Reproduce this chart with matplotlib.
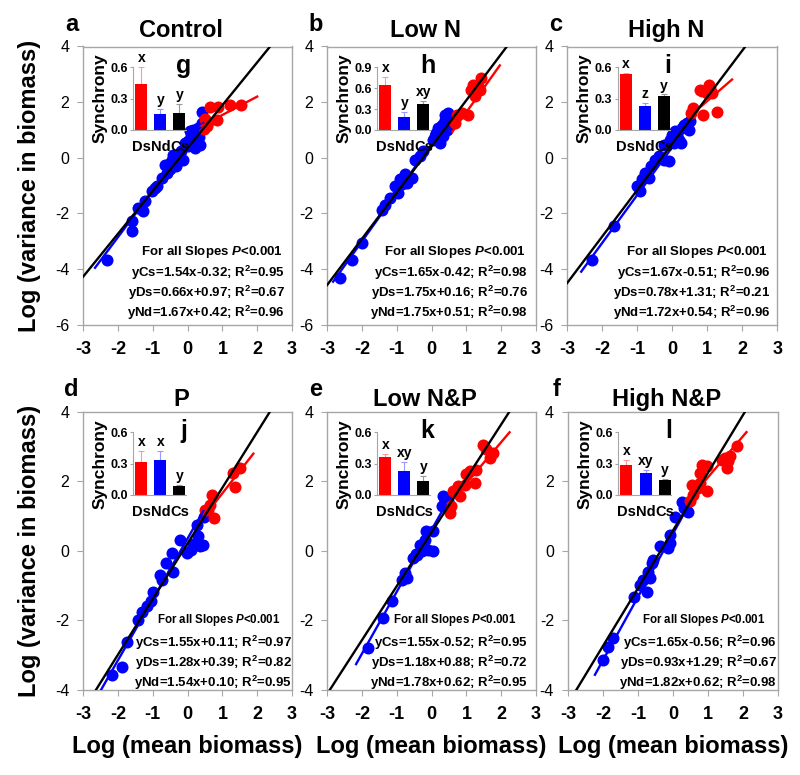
import numpy as np
import matplotlib.pyplot as plt

plt.rcParams['font.family'] = ['Liberation Sans', 'DejaVu Sans']
plt.rcParams['axes.unicode_minus'] = False
plt.rcParams['mathtext.fontset'] = 'custom'
plt.rcParams['mathtext.rm'] = 'Liberation Sans:bold'
plt.rcParams['mathtext.bf'] = 'Liberation Sans:bold'
plt.rcParams['mathtext.it'] = 'Liberation Sans:bold:italic'
plt.rcParams['mathtext.default'] = 'bf'

titles = ['Control', 'Low N', 'High N', 'P', 'Low N&P', 'High N&P']
panel_letters = ['a', 'b', 'c', 'd', 'e', 'f']
inset_letters = ['g', 'h', 'i', 'j', 'k', 'l']

# log(mean biomass), log(variance) for Nd (blue) and Ds (red) points
a_nd_x = [-2.32, -1.61, -1.61, -1.42, -1.27, -1.22, -1.03, -0.89, -0.95, -0.75, -0.60, -0.51, -0.65, -0.46,
          -0.41, -0.13, -0.51, -0.32, -0.08, 0.02, 0.16, 0.26, 0.30, 0.40, 0.35, 0.21, 0.11, 0.07, 0.42,
          -0.18, 0.00, 0.25, 0.33, 0.15, 0.30]
a_nd_y = [-3.69, -2.64, -2.28, -1.80, -1.92, -1.56, -1.20, -1.02, -1.10, -0.72, -0.54, -0.42, -0.25, -0.07,
          0.11, -0.07, -0.18, -0.30, 0.53, 0.41, 0.65, 0.89, 1.07, 1.25, 0.47, 0.35, 0.77, 0.95, 1.64,
          0.25, 0.60, 0.55, 0.75, 1.00, 0.95]
a_ds_x = [0.64, 0.87, 1.21, 1.53, 0.50, 0.84, 0.55, 0.47, 0.60]
a_ds_y = [1.81, 1.84, 1.88, 1.91, 1.41, 1.37, 1.16, 1.05, 1.30]

b_nd_x = [-2.63, -2.29, -2.01, -1.43, -1.34, -1.19, -0.96, -1.05, -0.91, -0.76, -0.57, -0.72, -0.48, -0.34,
          -0.24, 0.05, 0.14, 0.19, 0.29, 0.33, 0.43, 0.48, 0.38, 0.24, 0.10, 0.38, -0.85]
b_nd_y = [-4.32, -3.66, -3.06, -1.86, -1.68, -1.44, -1.26, -1.02, -0.78, -0.60, -0.73, -0.90, -0.07, 0.05,
          0.23, 0.65, 0.89, 1.07, 1.19, 0.77, 1.01, 1.61, 1.37, 0.53, 0.77, 1.55, -0.95]
b_ds_x = [0.67, 0.72, 0.86, 1.05, 1.14, 1.19, 1.38, 1.43, 1.24, 1.34]
b_ds_y = [1.25, 1.55, 1.61, 1.55, 2.45, 2.63, 2.45, 2.87, 2.21, 2.57]

c_nd_x = [-2.29, -1.67, -1.00, -0.91, -0.86, -0.77, -0.67, -0.62, -0.48, -0.38, -0.24, -0.10, -0.05, 0.00,
          0.09, 0.14, 0.19, 0.24, 0.29, 0.33, 0.43, 0.52, 0.05, 0.48, -0.24]
c_nd_y = [-3.66, -2.46, -1.03, -1.20, -0.78, -0.54, -0.73, -0.30, -0.07, 0.05, -0.07, -0.13, 0.65, 0.83,
          0.95, 0.83, 0.65, 0.53, 1.07, 1.19, 1.25, 1.31, 0.53, 1.01, 0.47]
c_ds_x = [0.80, 1.09, 1.14, 0.89, 1.29, 0.60, 0.55, 1.00, 0.86, 1.05]
c_ds_y = [2.45, 2.52, 2.34, 1.55, 1.66, 1.79, 1.60, 2.33, 2.40, 2.60]

d_nd_x = [-2.17, -1.88, -1.74, -1.42, -1.30, -1.18, -1.06, -0.99, -0.79, -0.73, -0.41, -0.62, -0.45, -0.21,
          -0.02, 0.16, 0.45, 0.28, 0.48, 0.30, 0.35, 0.11]
d_nd_y = [-3.57, -3.34, -2.62, -1.99, -1.76, -1.60, -1.45, -1.18, -0.69, -0.83, -0.60, -0.35, -0.06, 0.32,
          -0.06, 0.20, 0.17, 0.75, 0.98, 0.41, 0.12, 0.03]
d_ds_x = [0.70, 0.65, 0.75, 0.50, 1.31, 1.35, 1.51, 0.59]
d_ds_y = [1.61, 1.30, 0.95, 1.17, 2.24, 1.84, 2.38, 1.18]

e_nd_x = [-1.82, -1.39, -1.15, -0.86, -0.72, -0.77, -0.53, -0.43, -0.34, -0.29, -0.10, 0.05, -0.19, -0.15,
          0.05, 0.29, 0.38, 0.33, 0.48, -0.45]
e_nd_y = [-2.80, -1.94, -1.46, -0.83, -0.79, -0.64, -0.21, -0.12, 0.17, -0.02, 0.03, -0.02, 0.32, 0.56,
          0.56, 1.28, 1.47, 1.56, 1.42, -0.10]
e_ds_x = [0.57, 0.52, 0.62, 0.81, 0.76, 0.95, 1.00, 1.10, 1.24, 1.29, 1.48, 1.57, 1.77, 1.67]
e_ds_y = [1.28, 1.08, 1.71, 1.56, 1.85, 1.90, 2.19, 2.28, 1.95, 2.33, 3.05, 2.91, 2.81, 2.67]

f_nd_x = [-2.00, -1.86, -1.71, -1.12, -0.74, -0.95, -0.86, -0.67, -0.71, -0.61, -0.57, -0.37, -0.14, -0.09,
          -0.09, 0.06, 0.26, 0.30, 0.43, 0.37]
f_nd_y = [-3.14, -2.78, -2.51, -1.33, -1.18, -0.99, -0.85, -0.79, -0.60, -0.35, -0.26, 0.12, 0.08, 0.22,
          0.46, 0.98, 1.41, 1.22, 1.12, 1.31]
f_ds_x = [0.49, 0.58, 0.53, 0.77, 0.82, 0.77, 0.96, 0.72, 1.39, 1.49, 1.58, 1.53, 1.63, 1.82, 0.96]
f_ds_y = [1.42, 1.61, 1.90, 1.95, 2.47, 2.23, 1.71, 1.80, 2.62, 2.67, 2.57, 2.38, 2.71, 3.00, 2.43]

# fitted lines as drawn
cs_slope = [1.54, 1.66, 1.67, 1.60, 1.55, 1.66]
cs_icpt = [0.35, 0.41, 0.51, 0.21, 0.53, 0.58]
nd_slope = [1.67, 1.75, 1.72, 1.75, 1.78, 1.82]
nd_icpt = [0.49, 0.50, 0.38, 0.35, 0.60, 0.49]
nd_span = [(-2.66, 0.45), (-2.83, 0.50), (-2.60, 0.50), (-2.48, 0.45), (-2.17, 0.40), (-2.23, 0.50)]
ds_slope = [0.66, 1.75, 1.09, 1.28, 1.18, 1.18]
ds_icpt = [0.88, -0.11, 0.95, 0.37, 0.76, 0.93]
ds_span = [(0.40, 2.00), (0.60, 1.96), (0.49, 1.71), (0.40, 1.89), (0.50, 2.24), (0.40, 2.10)]

# reported equations
eq_cs = ['1.54x-0.32', '1.65x-0.42', '1.67x-0.51', '1.55x+0.11', '1.55x-0.52', '1.65x-0.56']
eq_ds = ['0.66x+0.97', '1.75x+0.16', '0.78x+1.31', '1.28x+0.39', '1.18x+0.88', '0.93x+1.29']
eq_nd = ['1.67x+0.42', '1.75x+0.51', '1.72x+0.54', '1.54x+0.10', '1.78x+0.62', '1.82x+0.62']
r2_cs = ['0.95', '0.98', '0.96', '0.97', '0.95', '0.96']
r2_ds = ['0.67', '0.76', '0.21', '0.82', '0.72', '0.67']
r2_nd = ['0.96', '0.98', '0.96', '0.95', '0.95', '0.98']

# synchrony insets
sync_labels = ['Ds', 'Nd', 'Cs']
sync_ds = [0.44, 0.65, 0.54, 0.32, 0.36, 0.29]
sync_nd = [0.15, 0.19, 0.23, 0.34, 0.23, 0.21]
sync_cs = [0.16, 0.38, 0.33, 0.09, 0.13, 0.14]
err_ds = [0.16, 0.11, 0.01, 0.10, 0.035, 0.05]
err_nd = [0.05, 0.07, 0.03, 0.08, 0.09, 0.03]
err_cs = [0.09, 0.04, 0.01, 0.01, 0.05, 0.015]
sig_ds = ['x', 'x', 'x', 'x', 'x', 'x']
sig_nd = ['y', 'y', 'z', 'x', 'xy', 'xy']
sig_cs = ['y', 'xy', 'y', 'y', 'y', 'y']
sync_ymax = [0.6, 0.9, 0.6, 0.6, 0.6, 0.6]

nd_x = [a_nd_x, b_nd_x, c_nd_x, d_nd_x, e_nd_x, f_nd_x]
nd_y = [a_nd_y, b_nd_y, c_nd_y, d_nd_y, e_nd_y, f_nd_y]
ds_x = [a_ds_x, b_ds_x, c_ds_x, d_ds_x, e_ds_x, f_ds_x]
ds_y = [a_ds_y, b_ds_y, c_ds_y, d_ds_y, e_ds_y, f_ds_y]

ax_pos = [[0.104, 0.581, 0.261, 0.359], [0.409, 0.581, 0.261, 0.359], [0.709, 0.581, 0.2625, 0.359],
          [0.104, 0.110, 0.261, 0.359], [0.409, 0.110, 0.261, 0.359], [0.710, 0.110, 0.2625, 0.359]]
eq_right = [0.967, 0.962, 0.967, 1.0, 0.96, 0.995]

GRAY = '#a6a6a6'
BLUE = '#0000ff'
RED = '#ff0000'

fig = plt.figure(figsize=(8, 7.75), dpi=100)

for i in range(6):
    ax = fig.add_axes(ax_pos[i])
    top = i < 3
    ax.scatter(nd_x[i], nd_y[i], s=75, color=BLUE, lw=0, zorder=2)
    ax.scatter(ds_x[i], ds_y[i], s=75, color=RED, lw=0, zorder=2)

    xs = np.array(nd_span[i])
    ax.plot(xs, nd_slope[i] * xs + nd_icpt[i], color=BLUE, lw=1.7, zorder=3)
    xs = np.array(ds_span[i])
    ax.plot(xs, ds_slope[i] * xs + ds_icpt[i], color=RED, lw=1.7, zorder=3)
    xs = np.array([-3.0, 3.0])
    ax.plot(xs, cs_slope[i] * xs + cs_icpt[i], color='black', lw=1.7, zorder=4)

    ax.set_xlim(-3, 3)
    ax.set_xticks(range(-3, 4))
    if top:
        ax.set_ylim(-6, 4)
        ax.set_yticks(range(-6, 5, 2))
    else:
        ax.set_ylim(-4, 4)
        ax.set_yticks(range(-4, 5, 2))
    for sp in ax.spines.values():
        sp.set_color(GRAY)
        sp.set_linewidth(1.0)
    ax.tick_params(axis='x', direction='out', length=4, color=GRAY, labelsize=13, pad=8)
    ax.tick_params(axis='y', direction='out', length=4, color=GRAY, labelsize=11.5, pad=6)
    for lab in ax.get_xticklabels():
        lab.set_fontweight('bold')

    ax.set_title(titles[i], fontsize=17, fontweight='bold', x=0.47, pad=7 if top else 4)
    ax.text(-0.055, 1.08, panel_letters[i], transform=ax.transAxes, fontsize=17,
            fontweight='bold', ha='center', va='center')
    if i % 3 == 0:
        ax.set_ylabel('Log (variance in biomass)', fontsize=17, fontweight='bold', labelpad=10)
    if not top:
        ax.set_xlabel('Log (mean biomass)', fontsize=17, fontweight='bold', labelpad=8)

    # equations
    if top:
        ys = [0.263, 0.187, 0.115, 0.043]
        fs_head = 9.5
    else:
        ys = [0.252, 0.169, 0.097, 0.025]
        fs_head = 8.3
    r = eq_right[i]
    ax.text(r - 0.35, ys[0], r'For all Slopes $\mathit{P}$<0.001', transform=ax.transAxes,
            fontsize=fs_head, fontweight='bold', ha='center', va='center', zorder=5)
    lines = [('yCs=', eq_cs[i], r2_cs[i]), ('yDs=', eq_ds[i], r2_ds[i]), ('yNd=', eq_nd[i], r2_nd[i])]
    for k, (nm, eq, r2) in enumerate(lines):
        ax.text(r, ys[k + 1], nm + eq + '; R$^{2}$=' + r2, transform=ax.transAxes,
                fontsize=9.5, fontweight='bold', ha='right', va='center', zorder=5)

    # synchrony inset
    ins = ax.inset_axes([0.24, 0.70, 0.25, 0.225])
    ins.patch.set_alpha(0)
    vals = [sync_ds[i], sync_nd[i], sync_cs[i]]
    errs = [err_ds[i], err_nd[i], err_cs[i]]
    sigs = [sig_ds[i], sig_nd[i], sig_cs[i]]
    cols = [RED, BLUE, 'black']
    ecols = ['#ff9999', '#9999ff', '#999999']
    ymax = sync_ymax[i]
    ins.bar(range(3), vals, width=0.63, color=cols, zorder=2)
    for j in range(3):
        ins.errorbar(j, vals[j], yerr=[[0], [errs[j]]], color=ecols[j], lw=0.8,
                     capsize=2, capthick=0.8, zorder=1)
        ins.text(j, vals[j] + errs[j] + 0.03 * ymax, sigs[j], fontsize=10, fontweight='bold',
                 ha='center', va='bottom', clip_on=False)
    ins.set_xlim(-0.42, 2.32)
    ins.set_ylim(0, ymax)
    ins.set_yticks(np.arange(0, ymax + 0.01, 0.3))
    ins.set_yticklabels(['%.1f' % v for v in np.arange(0, ymax + 0.01, 0.3)],
                        fontsize=9, fontweight='bold')
    ins.set_xticks(range(3))
    ins.set_xticklabels(sync_labels, fontsize=10.5, fontweight='bold')
    ins.tick_params(axis='x', length=0, pad=7)
    ins.tick_params(axis='y', length=2, color=GRAY, pad=2)
    ins.spines['top'].set_visible(False)
    ins.spines['right'].set_visible(False)
    ins.spines['left'].set_color(GRAY)
    ins.spines['bottom'].set_color(GRAY)
    ins.set_ylabel('Synchrony', fontsize=12.5, fontweight='bold', labelpad=2)
    ax.text(0.48, 0.93, inset_letters[i], transform=ax.transAxes, fontsize=18,
            fontweight='bold', ha='center', va='center', zorder=6)

fig.savefig('out.png', dpi=100)
